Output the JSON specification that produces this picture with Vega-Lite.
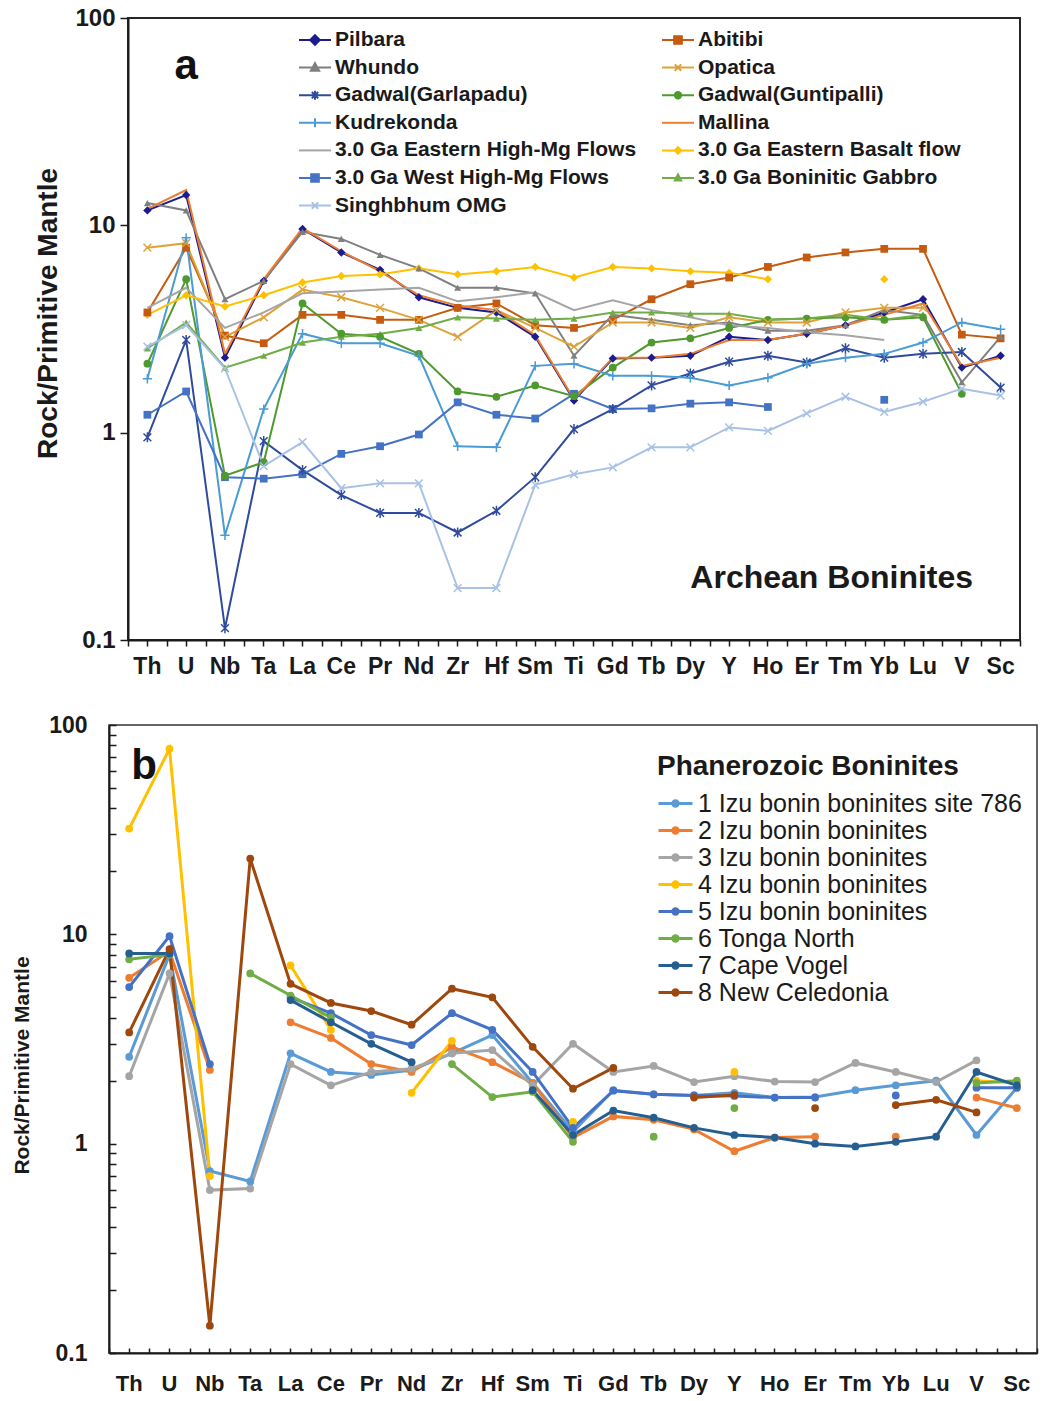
{
  "$schema": "https://vega.github.io/schema/vega-lite/v6.json",
  "padding": {"left": 2, "top": 5, "right": 0, "bottom": 0},
  "background": "white",
  "datasets": {
    "a": [
      {"s":"Pilbara","e":"Th","v":11.8},{"s":"Pilbara","e":"U","v":14},{"s":"Pilbara","e":"Nb","v":2.3},{"s":"Pilbara","e":"Ta","v":5.4},{"s":"Pilbara","e":"La","v":9.6},{"s":"Pilbara","e":"Ce","v":7.4},{"s":"Pilbara","e":"Pr","v":6.1},{"s":"Pilbara","e":"Nd","v":4.5},{"s":"Pilbara","e":"Zr","v":4.0},{"s":"Pilbara","e":"Hf","v":3.8},{"s":"Pilbara","e":"Sm","v":2.9},{"s":"Pilbara","e":"Ti","v":1.43},{"s":"Pilbara","e":"Gd","v":2.28},{"s":"Pilbara","e":"Tb","v":2.3},{"s":"Pilbara","e":"Dy","v":2.35},{"s":"Pilbara","e":"Y","v":2.9},{"s":"Pilbara","e":"Ho","v":2.8},{"s":"Pilbara","e":"Er","v":3.0},{"s":"Pilbara","e":"Tm","v":3.3},{"s":"Pilbara","e":"Yb","v":3.8},{"s":"Pilbara","e":"Lu","v":4.4},{"s":"Pilbara","e":"V","v":2.06},{"s":"Pilbara","e":"Sc","v":2.35},
      {"s":"Abitibi","e":"Th","v":3.8},{"s":"Abitibi","e":"U","v":7.8},{"s":"Abitibi","e":"Nb","v":2.94},{"s":"Abitibi","e":"Ta","v":2.7},{"s":"Abitibi","e":"La","v":3.7},{"s":"Abitibi","e":"Ce","v":3.7},{"s":"Abitibi","e":"Pr","v":3.5},{"s":"Abitibi","e":"Nd","v":3.5},{"s":"Abitibi","e":"Zr","v":4.0},{"s":"Abitibi","e":"Hf","v":4.2},{"s":"Abitibi","e":"Sm","v":3.3},{"s":"Abitibi","e":"Ti","v":3.2},{"s":"Abitibi","e":"Gd","v":3.5},{"s":"Abitibi","e":"Tb","v":4.4},{"s":"Abitibi","e":"Dy","v":5.2},{"s":"Abitibi","e":"Y","v":5.6},{"s":"Abitibi","e":"Ho","v":6.3},{"s":"Abitibi","e":"Er","v":7.0},{"s":"Abitibi","e":"Tm","v":7.4},{"s":"Abitibi","e":"Yb","v":7.7},{"s":"Abitibi","e":"Lu","v":7.7},{"s":"Abitibi","e":"V","v":2.97},{"s":"Abitibi","e":"Sc","v":2.85},
      {"s":"Whundo","e":"Th","v":12.8},{"s":"Whundo","e":"U","v":11.8},{"s":"Whundo","e":"Nb","v":4.4},{"s":"Whundo","e":"Ta","v":5.4},{"s":"Whundo","e":"La","v":9.3},{"s":"Whundo","e":"Ce","v":8.6},{"s":"Whundo","e":"Pr","v":7.2},{"s":"Whundo","e":"Nd","v":6.2},{"s":"Whundo","e":"Zr","v":5.0},{"s":"Whundo","e":"Hf","v":5.0},{"s":"Whundo","e":"Sm","v":4.7},{"s":"Whundo","e":"Ti","v":2.35},{"s":"Whundo","e":"Gd","v":3.7},{"s":"Whundo","e":"Tb","v":3.5},{"s":"Whundo","e":"Dy","v":3.3},{"s":"Whundo","e":"Y","v":3.4},{"s":"Whundo","e":"Ho","v":3.1},{"s":"Whundo","e":"Er","v":3.1},{"s":"Whundo","e":"Tm","v":3.3},{"s":"Whundo","e":"Yb","v":3.9},{"s":"Whundo","e":"Lu","v":3.7},{"s":"Whundo","e":"V","v":1.75},{"s":"Whundo","e":"Sc","v":2.9},
      {"s":"Opatica","e":"Th","v":7.8},{"s":"Opatica","e":"U","v":8.2},{"s":"Opatica","e":"Nb","v":2.9},{"s":"Opatica","e":"Ta","v":3.6},{"s":"Opatica","e":"La","v":4.9},{"s":"Opatica","e":"Ce","v":4.5},{"s":"Opatica","e":"Pr","v":4.0},{"s":"Opatica","e":"Nd","v":3.5},{"s":"Opatica","e":"Zr","v":2.9},{"s":"Opatica","e":"Hf","v":3.9},{"s":"Opatica","e":"Sm","v":3.2},{"s":"Opatica","e":"Ti","v":2.6},{"s":"Opatica","e":"Gd","v":3.4},{"s":"Opatica","e":"Tb","v":3.4},{"s":"Opatica","e":"Dy","v":3.2},{"s":"Opatica","e":"Y","v":3.6},{"s":"Opatica","e":"Ho","v":3.4},{"s":"Opatica","e":"Er","v":3.4},{"s":"Opatica","e":"Tm","v":3.8},{"s":"Opatica","e":"Yb","v":4.0},{"s":"Opatica","e":"Lu","v":4.0},
      {"s":"Gadwal(Garlapadu)","e":"Th","v":0.95},{"s":"Gadwal(Garlapadu)","e":"U","v":2.8},{"s":"Gadwal(Garlapadu)","e":"Nb","v":0.114},{"s":"Gadwal(Garlapadu)","e":"Ta","v":0.91},{"s":"Gadwal(Garlapadu)","e":"La","v":0.66},{"s":"Gadwal(Garlapadu)","e":"Ce","v":0.5},{"s":"Gadwal(Garlapadu)","e":"Pr","v":0.41},{"s":"Gadwal(Garlapadu)","e":"Nd","v":0.41},{"s":"Gadwal(Garlapadu)","e":"Zr","v":0.33},{"s":"Gadwal(Garlapadu)","e":"Hf","v":0.42},{"s":"Gadwal(Garlapadu)","e":"Sm","v":0.61},{"s":"Gadwal(Garlapadu)","e":"Ti","v":1.04},{"s":"Gadwal(Garlapadu)","e":"Gd","v":1.3},{"s":"Gadwal(Garlapadu)","e":"Tb","v":1.69},{"s":"Gadwal(Garlapadu)","e":"Dy","v":1.93},{"s":"Gadwal(Garlapadu)","e":"Y","v":2.2},{"s":"Gadwal(Garlapadu)","e":"Ho","v":2.35},{"s":"Gadwal(Garlapadu)","e":"Er","v":2.18},{"s":"Gadwal(Garlapadu)","e":"Tm","v":2.55},{"s":"Gadwal(Garlapadu)","e":"Yb","v":2.3},{"s":"Gadwal(Garlapadu)","e":"Lu","v":2.4},{"s":"Gadwal(Garlapadu)","e":"V","v":2.45},{"s":"Gadwal(Garlapadu)","e":"Sc","v":1.65},
      {"s":"Gadwal(Guntipalli)","e":"Th","v":2.15},{"s":"Gadwal(Guntipalli)","e":"U","v":5.5},{"s":"Gadwal(Guntipalli)","e":"Nb","v":0.62},{"s":"Gadwal(Guntipalli)","e":"Ta","v":0.72},{"s":"Gadwal(Guntipalli)","e":"La","v":4.2},{"s":"Gadwal(Guntipalli)","e":"Ce","v":3.0},{"s":"Gadwal(Guntipalli)","e":"Pr","v":2.9},{"s":"Gadwal(Guntipalli)","e":"Nd","v":2.4},{"s":"Gadwal(Guntipalli)","e":"Zr","v":1.58},{"s":"Gadwal(Guntipalli)","e":"Hf","v":1.49},{"s":"Gadwal(Guntipalli)","e":"Sm","v":1.69},{"s":"Gadwal(Guntipalli)","e":"Ti","v":1.5},{"s":"Gadwal(Guntipalli)","e":"Gd","v":2.06},{"s":"Gadwal(Guntipalli)","e":"Tb","v":2.72},{"s":"Gadwal(Guntipalli)","e":"Dy","v":2.85},{"s":"Gadwal(Guntipalli)","e":"Y","v":3.2},{"s":"Gadwal(Guntipalli)","e":"Ho","v":3.5},{"s":"Gadwal(Guntipalli)","e":"Er","v":3.55},{"s":"Gadwal(Guntipalli)","e":"Tm","v":3.6},{"s":"Gadwal(Guntipalli)","e":"Yb","v":3.5},{"s":"Gadwal(Guntipalli)","e":"Lu","v":3.6},{"s":"Gadwal(Guntipalli)","e":"V","v":1.54},
      {"s":"Kudrekonda","e":"Th","v":1.82},{"s":"Kudrekonda","e":"U","v":8.7},{"s":"Kudrekonda","e":"Nb","v":0.32},{"s":"Kudrekonda","e":"Ta","v":1.3},{"s":"Kudrekonda","e":"La","v":3.0},{"s":"Kudrekonda","e":"Ce","v":2.7},{"s":"Kudrekonda","e":"Pr","v":2.7},{"s":"Kudrekonda","e":"Nd","v":2.35},{"s":"Kudrekonda","e":"Zr","v":0.86},{"s":"Kudrekonda","e":"Hf","v":0.85},{"s":"Kudrekonda","e":"Sm","v":2.1},{"s":"Kudrekonda","e":"Ti","v":2.15},{"s":"Kudrekonda","e":"Gd","v":1.88},{"s":"Kudrekonda","e":"Tb","v":1.88},{"s":"Kudrekonda","e":"Dy","v":1.84},{"s":"Kudrekonda","e":"Y","v":1.69},{"s":"Kudrekonda","e":"Ho","v":1.84},{"s":"Kudrekonda","e":"Er","v":2.15},{"s":"Kudrekonda","e":"Tm","v":2.3},{"s":"Kudrekonda","e":"Yb","v":2.4},{"s":"Kudrekonda","e":"Lu","v":2.72},{"s":"Kudrekonda","e":"V","v":3.4},{"s":"Kudrekonda","e":"Sc","v":3.15},
      {"s":"Mallina","e":"Th","v":12.0},{"s":"Mallina","e":"U","v":14.8},{"s":"Mallina","e":"Nb","v":2.4},{"s":"Mallina","e":"Ta","v":5.5},{"s":"Mallina","e":"La","v":9.7},{"s":"Mallina","e":"Ce","v":7.5},{"s":"Mallina","e":"Pr","v":6.0},{"s":"Mallina","e":"Nd","v":4.6},{"s":"Mallina","e":"Zr","v":4.1},{"s":"Mallina","e":"Hf","v":3.9},{"s":"Mallina","e":"Sm","v":2.95},{"s":"Mallina","e":"Ti","v":1.45},{"s":"Mallina","e":"Gd","v":2.3},{"s":"Mallina","e":"Tb","v":2.3},{"s":"Mallina","e":"Dy","v":2.4},{"s":"Mallina","e":"Y","v":2.8},{"s":"Mallina","e":"Ho","v":2.8},{"s":"Mallina","e":"Er","v":3.0},{"s":"Mallina","e":"Tm","v":3.3},{"s":"Mallina","e":"Yb","v":3.7},{"s":"Mallina","e":"Lu","v":4.2},{"s":"Mallina","e":"V","v":2.1},{"s":"Mallina","e":"Sc","v":2.3},
      {"s":"3.0 Ga Eastern High-Mg Flows","e":"Th","v":4.0},{"s":"3.0 Ga Eastern High-Mg Flows","e":"U","v":5.0},{"s":"3.0 Ga Eastern High-Mg Flows","e":"Nb","v":3.2},{"s":"3.0 Ga Eastern High-Mg Flows","e":"Ta","v":3.8},{"s":"3.0 Ga Eastern High-Mg Flows","e":"La","v":4.7},{"s":"3.0 Ga Eastern High-Mg Flows","e":"Ce","v":4.8},{"s":"3.0 Ga Eastern High-Mg Flows","e":"Pr","v":4.9},{"s":"3.0 Ga Eastern High-Mg Flows","e":"Nd","v":5.0},{"s":"3.0 Ga Eastern High-Mg Flows","e":"Zr","v":4.3},{"s":"3.0 Ga Eastern High-Mg Flows","e":"Hf","v":4.5},{"s":"3.0 Ga Eastern High-Mg Flows","e":"Sm","v":4.75},{"s":"3.0 Ga Eastern High-Mg Flows","e":"Ti","v":3.9},{"s":"3.0 Ga Eastern High-Mg Flows","e":"Gd","v":4.35},{"s":"3.0 Ga Eastern High-Mg Flows","e":"Tb","v":3.9},{"s":"3.0 Ga Eastern High-Mg Flows","e":"Dy","v":3.6},{"s":"3.0 Ga Eastern High-Mg Flows","e":"Y","v":3.3},{"s":"3.0 Ga Eastern High-Mg Flows","e":"Ho","v":3.2},{"s":"3.0 Ga Eastern High-Mg Flows","e":"Er","v":3.05},{"s":"3.0 Ga Eastern High-Mg Flows","e":"Tm","v":2.95},{"s":"3.0 Ga Eastern High-Mg Flows","e":"Yb","v":2.8},
      {"s":"3.0 Ga Eastern Basalt flow","e":"Th","v":3.7},{"s":"3.0 Ga Eastern Basalt flow","e":"U","v":4.6},{"s":"3.0 Ga Eastern Basalt flow","e":"Nb","v":4.06},{"s":"3.0 Ga Eastern Basalt flow","e":"Ta","v":4.6},{"s":"3.0 Ga Eastern Basalt flow","e":"La","v":5.3},{"s":"3.0 Ga Eastern Basalt flow","e":"Ce","v":5.7},{"s":"3.0 Ga Eastern Basalt flow","e":"Pr","v":5.8},{"s":"3.0 Ga Eastern Basalt flow","e":"Nd","v":6.2},{"s":"3.0 Ga Eastern Basalt flow","e":"Zr","v":5.8},{"s":"3.0 Ga Eastern Basalt flow","e":"Hf","v":6.0},{"s":"3.0 Ga Eastern Basalt flow","e":"Sm","v":6.3},{"s":"3.0 Ga Eastern Basalt flow","e":"Ti","v":5.6},{"s":"3.0 Ga Eastern Basalt flow","e":"Gd","v":6.3},{"s":"3.0 Ga Eastern Basalt flow","e":"Tb","v":6.2},{"s":"3.0 Ga Eastern Basalt flow","e":"Dy","v":6.0},{"s":"3.0 Ga Eastern Basalt flow","e":"Y","v":5.9},{"s":"3.0 Ga Eastern Basalt flow","e":"Ho","v":5.5},{"s":"3.0 Ga Eastern Basalt flow","e":"Er","v":null},{"s":"3.0 Ga Eastern Basalt flow","e":"Yb","v":5.5},
      {"s":"3.0 Ga West High-Mg Flows","e":"Th","v":1.22},{"s":"3.0 Ga West High-Mg Flows","e":"U","v":1.58},{"s":"3.0 Ga West High-Mg Flows","e":"Nb","v":0.61},{"s":"3.0 Ga West High-Mg Flows","e":"Ta","v":0.6},{"s":"3.0 Ga West High-Mg Flows","e":"La","v":0.63},{"s":"3.0 Ga West High-Mg Flows","e":"Ce","v":0.79},{"s":"3.0 Ga West High-Mg Flows","e":"Pr","v":0.86},{"s":"3.0 Ga West High-Mg Flows","e":"Nd","v":0.98},{"s":"3.0 Ga West High-Mg Flows","e":"Zr","v":1.4},{"s":"3.0 Ga West High-Mg Flows","e":"Hf","v":1.22},{"s":"3.0 Ga West High-Mg Flows","e":"Sm","v":1.17},{"s":"3.0 Ga West High-Mg Flows","e":"Ti","v":1.54},{"s":"3.0 Ga West High-Mg Flows","e":"Gd","v":1.3},{"s":"3.0 Ga West High-Mg Flows","e":"Tb","v":1.31},{"s":"3.0 Ga West High-Mg Flows","e":"Dy","v":1.38},{"s":"3.0 Ga West High-Mg Flows","e":"Y","v":1.4},{"s":"3.0 Ga West High-Mg Flows","e":"Ho","v":1.33},{"s":"3.0 Ga West High-Mg Flows","e":"Er","v":null},{"s":"3.0 Ga West High-Mg Flows","e":"Yb","v":1.44},
      {"s":"3.0 Ga Boninitic Gabbro","e":"Th","v":2.55},{"s":"3.0 Ga Boninitic Gabbro","e":"U","v":3.4},{"s":"3.0 Ga Boninitic Gabbro","e":"Nb","v":2.06},{"s":"3.0 Ga Boninitic Gabbro","e":"Ta","v":2.35},{"s":"3.0 Ga Boninitic Gabbro","e":"La","v":2.72},{"s":"3.0 Ga Boninitic Gabbro","e":"Ce","v":2.9},{"s":"3.0 Ga Boninitic Gabbro","e":"Pr","v":3.0},{"s":"3.0 Ga Boninitic Gabbro","e":"Nd","v":3.2},{"s":"3.0 Ga Boninitic Gabbro","e":"Zr","v":3.6},{"s":"3.0 Ga Boninitic Gabbro","e":"Hf","v":3.55},{"s":"3.0 Ga Boninitic Gabbro","e":"Sm","v":3.5},{"s":"3.0 Ga Boninitic Gabbro","e":"Ti","v":3.55},{"s":"3.0 Ga Boninitic Gabbro","e":"Gd","v":3.8},{"s":"3.0 Ga Boninitic Gabbro","e":"Tb","v":3.8},{"s":"3.0 Ga Boninitic Gabbro","e":"Dy","v":3.75},{"s":"3.0 Ga Boninitic Gabbro","e":"Y","v":3.75},{"s":"3.0 Ga Boninitic Gabbro","e":"Ho","v":3.5},{"s":"3.0 Ga Boninitic Gabbro","e":"Er","v":3.55},{"s":"3.0 Ga Boninitic Gabbro","e":"Tm","v":3.7},{"s":"3.0 Ga Boninitic Gabbro","e":"Yb","v":3.5},{"s":"3.0 Ga Boninitic Gabbro","e":"Lu","v":3.7},
      {"s":"Singhbhum OMG","e":"Th","v":2.6},{"s":"Singhbhum OMG","e":"U","v":3.3},{"s":"Singhbhum OMG","e":"Nb","v":2.04},{"s":"Singhbhum OMG","e":"Ta","v":0.69},{"s":"Singhbhum OMG","e":"La","v":0.9},{"s":"Singhbhum OMG","e":"Ce","v":0.54},{"s":"Singhbhum OMG","e":"Pr","v":0.57},{"s":"Singhbhum OMG","e":"Nd","v":0.57},{"s":"Singhbhum OMG","e":"Zr","v":0.178},{"s":"Singhbhum OMG","e":"Hf","v":0.178},{"s":"Singhbhum OMG","e":"Sm","v":0.56},{"s":"Singhbhum OMG","e":"Ti","v":0.63},{"s":"Singhbhum OMG","e":"Gd","v":0.68},{"s":"Singhbhum OMG","e":"Tb","v":0.85},{"s":"Singhbhum OMG","e":"Dy","v":0.85},{"s":"Singhbhum OMG","e":"Y","v":1.06},{"s":"Singhbhum OMG","e":"Ho","v":1.02},{"s":"Singhbhum OMG","e":"Er","v":1.24},{"s":"Singhbhum OMG","e":"Tm","v":1.49},{"s":"Singhbhum OMG","e":"Yb","v":1.26},{"s":"Singhbhum OMG","e":"Lu","v":1.41},{"s":"Singhbhum OMG","e":"V","v":1.63},{"s":"Singhbhum OMG","e":"Sc","v":1.51}
    ],
    "b": [
      {"s":"1 Izu bonin boninites site 786","e":"Th","v":2.6},{"s":"1 Izu bonin boninites site 786","e":"U","v":8.0},{"s":"1 Izu bonin boninites site 786","e":"Nb","v":0.74},{"s":"1 Izu bonin boninites site 786","e":"Ta","v":0.66},{"s":"1 Izu bonin boninites site 786","e":"La","v":2.7},{"s":"1 Izu bonin boninites site 786","e":"Ce","v":2.2},{"s":"1 Izu bonin boninites site 786","e":"Pr","v":2.13},{"s":"1 Izu bonin boninites site 786","e":"Nd","v":2.25},{"s":"1 Izu bonin boninites site 786","e":"Zr","v":2.7},{"s":"1 Izu bonin boninites site 786","e":"Hf","v":3.3},{"s":"1 Izu bonin boninites site 786","e":"Sm","v":1.95},{"s":"1 Izu bonin boninites site 786","e":"Ti","v":1.14},{"s":"1 Izu bonin boninites site 786","e":"Gd","v":1.8},{"s":"1 Izu bonin boninites site 786","e":"Tb","v":1.72},{"s":"1 Izu bonin boninites site 786","e":"Dy","v":1.7},{"s":"1 Izu bonin boninites site 786","e":"Y","v":1.75},{"s":"1 Izu bonin boninites site 786","e":"Ho","v":1.66},{"s":"1 Izu bonin boninites site 786","e":"Er","v":1.67},{"s":"1 Izu bonin boninites site 786","e":"Tm","v":1.8},{"s":"1 Izu bonin boninites site 786","e":"Yb","v":1.9},{"s":"1 Izu bonin boninites site 786","e":"Lu","v":2.0},{"s":"1 Izu bonin boninites site 786","e":"V","v":1.1},{"s":"1 Izu bonin boninites site 786","e":"Sc","v":1.85},
      {"s":"2 Izu bonin boninites","e":"Th","v":6.2},{"s":"2 Izu bonin boninites","e":"U","v":8.3},{"s":"2 Izu bonin boninites","e":"Nb","v":2.25},{"s":"2 Izu bonin boninites","e":"Ta","v":null},{"s":"2 Izu bonin boninites","e":"La","v":3.8},{"s":"2 Izu bonin boninites","e":"Ce","v":3.2},{"s":"2 Izu bonin boninites","e":"Pr","v":2.4},{"s":"2 Izu bonin boninites","e":"Nd","v":2.2},{"s":"2 Izu bonin boninites","e":"Zr","v":2.9},{"s":"2 Izu bonin boninites","e":"Hf","v":2.45},{"s":"2 Izu bonin boninites","e":"Sm","v":1.95},{"s":"2 Izu bonin boninites","e":"Ti","v":1.07},{"s":"2 Izu bonin boninites","e":"Gd","v":1.35},{"s":"2 Izu bonin boninites","e":"Tb","v":1.3},{"s":"2 Izu bonin boninites","e":"Dy","v":1.17},{"s":"2 Izu bonin boninites","e":"Y","v":0.92},{"s":"2 Izu bonin boninites","e":"Ho","v":1.07},{"s":"2 Izu bonin boninites","e":"Er","v":1.08},{"s":"2 Izu bonin boninites","e":"Tm","v":null},{"s":"2 Izu bonin boninites","e":"Yb","v":1.08},{"s":"2 Izu bonin boninites","e":"Lu","v":null},{"s":"2 Izu bonin boninites","e":"V","v":1.66},{"s":"2 Izu bonin boninites","e":"Sc","v":1.48},
      {"s":"3 Izu bonin boninites","e":"Th","v":2.1},{"s":"3 Izu bonin boninites","e":"U","v":6.5},{"s":"3 Izu bonin boninites","e":"Nb","v":0.6},{"s":"3 Izu bonin boninites","e":"Ta","v":0.61},{"s":"3 Izu bonin boninites","e":"La","v":2.4},{"s":"3 Izu bonin boninites","e":"Ce","v":1.9},{"s":"3 Izu bonin boninites","e":"Pr","v":2.2},{"s":"3 Izu bonin boninites","e":"Nd","v":2.28},{"s":"3 Izu bonin boninites","e":"Zr","v":2.7},{"s":"3 Izu bonin boninites","e":"Hf","v":2.8},{"s":"3 Izu bonin boninites","e":"Sm","v":1.9},{"s":"3 Izu bonin boninites","e":"Ti","v":3.0},{"s":"3 Izu bonin boninites","e":"Gd","v":2.2},{"s":"3 Izu bonin boninites","e":"Tb","v":2.35},{"s":"3 Izu bonin boninites","e":"Dy","v":1.97},{"s":"3 Izu bonin boninites","e":"Y","v":2.1},{"s":"3 Izu bonin boninites","e":"Ho","v":1.98},{"s":"3 Izu bonin boninites","e":"Er","v":1.97},{"s":"3 Izu bonin boninites","e":"Tm","v":2.43},{"s":"3 Izu bonin boninites","e":"Yb","v":2.2},{"s":"3 Izu bonin boninites","e":"Lu","v":1.97},{"s":"3 Izu bonin boninites","e":"V","v":2.5},
      {"s":"4 Izu bonin boninites","e":"Th","v":32},{"s":"4 Izu bonin boninites","e":"U","v":77},{"s":"4 Izu bonin boninites","e":"Nb","v":0.7},{"s":"4 Izu bonin boninites","e":"Ta","v":null},{"s":"4 Izu bonin boninites","e":"La","v":7.1},{"s":"4 Izu bonin boninites","e":"Ce","v":3.5},{"s":"4 Izu bonin boninites","e":"Pr","v":null},{"s":"4 Izu bonin boninites","e":"Nd","v":1.75},{"s":"4 Izu bonin boninites","e":"Zr","v":3.1},{"s":"4 Izu bonin boninites","e":"Hf","v":null},{"s":"4 Izu bonin boninites","e":"Ti","v":1.27},{"s":"4 Izu bonin boninites","e":"Gd","v":null},{"s":"4 Izu bonin boninites","e":"Y","v":2.2},{"s":"4 Izu bonin boninites","e":"Ho","v":null},{"s":"4 Izu bonin boninites","e":"V","v":2.0},{"s":"4 Izu bonin boninites","e":"Sc","v":1.95},
      {"s":"5 Izu bonin boninites","e":"Th","v":5.6},{"s":"5 Izu bonin boninites","e":"U","v":9.8},{"s":"5 Izu bonin boninites","e":"Nb","v":2.4},{"s":"5 Izu bonin boninites","e":"Ta","v":null},{"s":"5 Izu bonin boninites","e":"La","v":5.0},{"s":"5 Izu bonin boninites","e":"Ce","v":4.2},{"s":"5 Izu bonin boninites","e":"Pr","v":3.3},{"s":"5 Izu bonin boninites","e":"Nd","v":2.96},{"s":"5 Izu bonin boninites","e":"Zr","v":4.2},{"s":"5 Izu bonin boninites","e":"Hf","v":3.5},{"s":"5 Izu bonin boninites","e":"Sm","v":2.2},{"s":"5 Izu bonin boninites","e":"Ti","v":1.19},{"s":"5 Izu bonin boninites","e":"Gd","v":1.79},{"s":"5 Izu bonin boninites","e":"Tb","v":1.72},{"s":"5 Izu bonin boninites","e":"Dy","v":1.7},{"s":"5 Izu bonin boninites","e":"Y","v":1.69},{"s":"5 Izu bonin boninites","e":"Ho","v":1.66},{"s":"5 Izu bonin boninites","e":"Er","v":1.66},{"s":"5 Izu bonin boninites","e":"Tm","v":null},{"s":"5 Izu bonin boninites","e":"Yb","v":1.7},{"s":"5 Izu bonin boninites","e":"Lu","v":null},{"s":"5 Izu bonin boninites","e":"V","v":1.85},{"s":"5 Izu bonin boninites","e":"Sc","v":1.85},
      {"s":"6 Tonga North","e":"Th","v":7.6},{"s":"6 Tonga North","e":"U","v":8.0},{"s":"6 Tonga North","e":"Nb","v":null},{"s":"6 Tonga North","e":"Ta","v":6.5},{"s":"6 Tonga North","e":"La","v":5.1},{"s":"6 Tonga North","e":"Ce","v":4.0},{"s":"6 Tonga North","e":"Pr","v":null},{"s":"6 Tonga North","e":"Zr","v":2.4},{"s":"6 Tonga North","e":"Hf","v":1.67},{"s":"6 Tonga North","e":"Sm","v":1.77},{"s":"6 Tonga North","e":"Ti","v":1.02},{"s":"6 Tonga North","e":"Gd","v":null},{"s":"6 Tonga North","e":"Tb","v":1.08},{"s":"6 Tonga North","e":"Dy","v":null},{"s":"6 Tonga North","e":"Y","v":1.48},{"s":"6 Tonga North","e":"Ho","v":null},{"s":"6 Tonga North","e":"V","v":1.95},{"s":"6 Tonga North","e":"Sc","v":2.0},
      {"s":"7 Cape Vogel","e":"Th","v":8.1},{"s":"7 Cape Vogel","e":"U","v":8.1},{"s":"7 Cape Vogel","e":"Nb","v":null},{"s":"7 Cape Vogel","e":"La","v":4.85},{"s":"7 Cape Vogel","e":"Ce","v":3.8},{"s":"7 Cape Vogel","e":"Pr","v":3.0},{"s":"7 Cape Vogel","e":"Nd","v":2.45},{"s":"7 Cape Vogel","e":"Zr","v":null},{"s":"7 Cape Vogel","e":"Sm","v":1.8},{"s":"7 Cape Vogel","e":"Ti","v":1.1},{"s":"7 Cape Vogel","e":"Gd","v":1.44},{"s":"7 Cape Vogel","e":"Tb","v":1.33},{"s":"7 Cape Vogel","e":"Dy","v":1.19},{"s":"7 Cape Vogel","e":"Y","v":1.1},{"s":"7 Cape Vogel","e":"Ho","v":1.07},{"s":"7 Cape Vogel","e":"Er","v":1.0},{"s":"7 Cape Vogel","e":"Tm","v":0.97},{"s":"7 Cape Vogel","e":"Yb","v":1.02},{"s":"7 Cape Vogel","e":"Lu","v":1.08},{"s":"7 Cape Vogel","e":"V","v":2.2},{"s":"7 Cape Vogel","e":"Sc","v":1.9},
      {"s":"8 New Celedonia","e":"Th","v":3.4},{"s":"8 New Celedonia","e":"U","v":8.5},{"s":"8 New Celedonia","e":"Nb","v":0.135},{"s":"8 New Celedonia","e":"Ta","v":23},{"s":"8 New Celedonia","e":"La","v":5.8},{"s":"8 New Celedonia","e":"Ce","v":4.7},{"s":"8 New Celedonia","e":"Pr","v":4.3},{"s":"8 New Celedonia","e":"Nd","v":3.7},{"s":"8 New Celedonia","e":"Zr","v":5.5},{"s":"8 New Celedonia","e":"Hf","v":5.0},{"s":"8 New Celedonia","e":"Sm","v":2.9},{"s":"8 New Celedonia","e":"Ti","v":1.83},{"s":"8 New Celedonia","e":"Gd","v":2.3},{"s":"8 New Celedonia","e":"Tb","v":null},{"s":"8 New Celedonia","e":"Dy","v":1.66},{"s":"8 New Celedonia","e":"Y","v":1.71},{"s":"8 New Celedonia","e":"Ho","v":null},{"s":"8 New Celedonia","e":"Er","v":1.48},{"s":"8 New Celedonia","e":"Tm","v":null},{"s":"8 New Celedonia","e":"Yb","v":1.53},{"s":"8 New Celedonia","e":"Lu","v":1.62},{"s":"8 New Celedonia","e":"V","v":1.41}
    ]
  },
  "vconcat": [
    {
      "hconcat": [
        {
          "width": 31, "height": 10,
          "data": {"values": [{}]},
          "mark": {"type": "point", "opacity": 0}
        },
        {
          "width": 892, "height": 622,
          "view": {"stroke": "#262626", "strokeWidth": 2},
          "data": {"name": "a"},
          "encoding": {
            "x": {"field": "e", "type": "nominal", "sort": ["Th","U","Nb","Ta","La","Ce","Pr","Nd","Zr","Hf","Sm","Ti","Gd","Tb","Dy","Y","Ho","Er","Tm","Yb","Lu","V","Sc"], "scale": {"type": "band", "paddingInner": 0, "paddingOuter": 0}, "axis": null},
            "y": {"field": "v", "type": "quantitative", "scale": {"type": "log", "domain": [0.1, 100], "nice": false},
                  "axis": {"values": [0.1, 1, 10, 100], "format": "~g", "title": "Rock/Primitive Mantle", "titleFontSize": 28, "titlePadding": 12, "titleY": 295, "labelFontSize": 24, "tickSize": 8, "labelPadding": 5, "labelOverlap": false}},
            "color": {"field": "s", "type": "nominal", "legend": null,
                      "scale": {"domain": ["Singhbhum OMG","3.0 Ga Boninitic Gabbro","3.0 Ga West High-Mg Flows","3.0 Ga Eastern Basalt flow","3.0 Ga Eastern High-Mg Flows","Mallina","Kudrekonda","Gadwal(Guntipalli)","Gadwal(Garlapadu)","Opatica","Whundo","Abitibi","Pilbara"],
                                "range": ["#A8C1E6","#70AD47","#4472C4","#FFC000","#A5A5A5","#ED7D31","#4A9BD6","#4E9A2E","#2F4B9B","#DDA33A","#7F7F7F","#C55A11","#1C1C8C"]}}
          },
          "layer": [
            {
              "mark": {"type": "line", "strokeWidth": 2},
              "encoding": {
                "x": {"field": "e", "type": "nominal", "sort": ["Th","U","Nb","Ta","La","Ce","Pr","Nd","Zr","Hf","Sm","Ti","Gd","Tb","Dy","Y","Ho","Er","Tm","Yb","Lu","V","Sc"],
                      "axis": {"orient": "bottom", "title": null, "labelFontSize": 23, "labelAngle": 0, "tickSize": 6, "labelPadding": 9}}
              }
            },
            {
              "transform": [{"filter": {"field": "s", "oneOf": ["Pilbara", "3.0 Ga Eastern Basalt flow"]}}],
              "mark": {"type": "point", "shape": "diamond", "filled": true, "size": 70, "opacity": 1}
            },
            {
              "transform": [{"filter": {"field": "s", "oneOf": ["Abitibi", "3.0 Ga West High-Mg Flows"]}}],
              "mark": {"type": "point", "shape": "square", "filled": true, "size": 60, "opacity": 1}
            },
            {
              "transform": [{"filter": {"field": "s", "oneOf": ["Whundo", "3.0 Ga Boninitic Gabbro"]}}],
              "mark": {"type": "point", "shape": "triangle-up", "filled": true, "size": 50, "opacity": 1}
            },
            {
              "transform": [{"filter": {"field": "s", "oneOf": ["Gadwal(Guntipalli)"]}}],
              "mark": {"type": "point", "shape": "circle", "filled": true, "size": 60, "opacity": 1}
            },
            {
              "transform": [{"filter": {"field": "s", "oneOf": ["Opatica", "Singhbhum OMG"]}}],
              "mark": {"type": "point", "shape": "M-1,-1L1,1M-1,1L1,-1", "filled": false, "size": 60, "strokeWidth": 1.5, "opacity": 1}
            },
            {
              "transform": [{"filter": {"field": "s", "oneOf": ["Gadwal(Garlapadu)"]}}],
              "mark": {"type": "point", "shape": "M-1,-1L1,1M-1,1L1,-1M0,-1.3V1.3", "filled": false, "size": 60, "strokeWidth": 1.5, "opacity": 1}
            },
            {
              "transform": [{"filter": {"field": "s", "oneOf": ["Kudrekonda"]}}],
              "mark": {"type": "point", "shape": "M-1.2,0H1.2M0,-1.2V1.2", "filled": false, "size": 60, "strokeWidth": 1.5, "opacity": 1}
            },
            {
              "mark": {"type": "point", "opacity": 0, "filled": true},
              "encoding": {
                "x": {"field": "e", "type": "nominal", "sort": ["Th","U","Nb","Ta","La","Ce","Pr","Nd","Zr","Hf","Sm","Ti","Gd","Tb","Dy","Y","Ho","Er","Tm","Yb","Lu","V","Sc"],
                      "axis": {"orient": "bottom", "title": null, "labels": false, "domain": false, "tickBand": "extent", "tickSize": 6}},
                "fill": {"field": "s", "type": "nominal",
                         "scale": {"domain": ["Pilbara","Whundo","Gadwal(Garlapadu)","Kudrekonda","3.0 Ga Eastern High-Mg Flows","3.0 Ga West High-Mg Flows","Singhbhum OMG","Abitibi","Opatica","Gadwal(Guntipalli)","Mallina","3.0 Ga Eastern Basalt flow","3.0 Ga Boninitic Gabbro"],
                                   "range": ["#1C1C8C","#7F7F7F","#2F4B9B","#4A9BD6","#A5A5A5","#4472C4","#A8C1E6","#C55A11","#DDA33A","#4E9A2E","#ED7D31","#FFC000","#70AD47"]},
                         "legend": {"orient": "none", "legendX": 170, "legendY": 5, "columns": 2, "columnPadding": 21, "rowPadding": 0.6, "symbolSize": 1024, "symbolStrokeWidth": 2, "labelFontSize": 21, "labelFontWeight": "bold", "labelOffset": 3, "title": null, "labelLimit": 400, "padding": 0,
                                    "encode": {"symbols": {"update": {"fill": {"signal": "['#1C1C8C','#7F7F7F','#2F4B9B','#4A9BD6','#A5A5A5','#4472C4','#A8C1E6','#C55A11','#DDA33A','#4E9A2E','#ED7D31','#FFC000','#70AD47'][indexof(['Pilbara','Whundo','Gadwal(Garlapadu)','Kudrekonda','3.0 Ga Eastern High-Mg Flows','3.0 Ga West High-Mg Flows','Singhbhum OMG','Abitibi','Opatica','Gadwal(Guntipalli)','Mallina','3.0 Ga Eastern Basalt flow','3.0 Ga Boninitic Gabbro'], datum.value)]"}, "fillOpacity": {"value": 1}}}}}},
                "stroke": {"field": "s", "type": "nominal",
                         "scale": {"domain": ["Pilbara","Whundo","Gadwal(Garlapadu)","Kudrekonda","3.0 Ga Eastern High-Mg Flows","3.0 Ga West High-Mg Flows","Singhbhum OMG","Abitibi","Opatica","Gadwal(Guntipalli)","Mallina","3.0 Ga Eastern Basalt flow","3.0 Ga Boninitic Gabbro"],
                                   "range": ["#1C1C8C","#7F7F7F","#2F4B9B","#4A9BD6","#A5A5A5","#4472C4","#A8C1E6","#C55A11","#DDA33A","#4E9A2E","#ED7D31","#FFC000","#70AD47"]},
                         "legend": {"orient": "none", "legendX": 170, "legendY": 5, "columns": 2, "columnPadding": 21, "rowPadding": 0.6, "symbolSize": 1024, "symbolStrokeWidth": 2, "labelFontSize": 21, "labelFontWeight": "bold", "labelOffset": 3, "title": null, "labelLimit": 400, "padding": 0,
                                    "encode": {"symbols": {"update": {"fill": {"signal": "['#1C1C8C','#7F7F7F','#2F4B9B','#4A9BD6','#A5A5A5','#4472C4','#A8C1E6','#C55A11','#DDA33A','#4E9A2E','#ED7D31','#FFC000','#70AD47'][indexof(['Pilbara','Whundo','Gadwal(Garlapadu)','Kudrekonda','3.0 Ga Eastern High-Mg Flows','3.0 Ga West High-Mg Flows','Singhbhum OMG','Abitibi','Opatica','Gadwal(Guntipalli)','Mallina','3.0 Ga Eastern Basalt flow','3.0 Ga Boninitic Gabbro'], datum.value)]"}, "fillOpacity": {"value": 1}}}}}},
                "shape": {"field": "s", "type": "nominal",
                         "scale": {"domain": ["Pilbara","Whundo","Gadwal(Garlapadu)","Kudrekonda","3.0 Ga Eastern High-Mg Flows","3.0 Ga West High-Mg Flows","Singhbhum OMG","Abitibi","Opatica","Gadwal(Guntipalli)","Mallina","3.0 Ga Eastern Basalt flow","3.0 Ga Boninitic Gabbro"],
                                   "range": ["M-1,0H1M0,-0.3L0.3,0L0,0.3L-0.3,0Z","M-1,0H1M0,-0.28L0.26,0.2H-0.26Z","M-1,0H1M-0.2,-0.2L0.2,0.2M-0.2,0.2L0.2,-0.2M0,-0.28V0.28","M-1,0H1M0,-0.28V0.28","M-1,0H1","M-1,0H1M-0.24,-0.24H0.24V0.24H-0.24Z","M-1,0H1M-0.2,-0.2L0.2,0.2M-0.2,0.2L0.2,-0.2","M-1,0H1M-0.24,-0.24H0.24V0.24H-0.24Z","M-1,0H1M-0.2,-0.2L0.2,0.2M-0.2,0.2L0.2,-0.2","M-1,0H1M0.2,0A0.2,0.2 0 1,1 -0.2,0A0.2,0.2 0 1,1 0.2,0Z","M-1,0H1","M-1,0H1M0,-0.2L0.2,0L0,0.2L-0.2,0Z","M-1,0H1M0,-0.22L0.2,0.16H-0.2Z"]},
                         "legend": {"orient": "none", "legendX": 170, "legendY": 5, "columns": 2, "columnPadding": 21, "rowPadding": 0.6, "symbolSize": 1024, "symbolStrokeWidth": 2, "labelFontSize": 21, "labelFontWeight": "bold", "labelOffset": 3, "title": null, "labelLimit": 400, "padding": 0,
                                    "encode": {"symbols": {"update": {"fill": {"signal": "['#1C1C8C','#7F7F7F','#2F4B9B','#4A9BD6','#A5A5A5','#4472C4','#A8C1E6','#C55A11','#DDA33A','#4E9A2E','#ED7D31','#FFC000','#70AD47'][indexof(['Pilbara','Whundo','Gadwal(Garlapadu)','Kudrekonda','3.0 Ga Eastern High-Mg Flows','3.0 Ga West High-Mg Flows','Singhbhum OMG','Abitibi','Opatica','Gadwal(Guntipalli)','Mallina','3.0 Ga Eastern Basalt flow','3.0 Ga Boninitic Gabbro'], datum.value)]"}, "fillOpacity": {"value": 1}}}}}}
              }
            },
            {
              "transform": [{"filter": "datum.s === 'Pilbara' && datum.e === 'Th'"}],
              "mark": {"type": "text", "fontSize": 42, "fontWeight": "bold", "align": "center", "baseline": "alphabetic"},
              "encoding": {"x": {"datum": "U", "axis": null}, "y": {"datum": 51, "type": "quantitative"}, "text": {"value": "a"}, "color": {"value": "#111111"}}
            },
            {
              "transform": [{"filter": "datum.s === 'Pilbara' && datum.e === 'Th'"}],
              "mark": {"type": "text", "fontSize": 32, "fontWeight": "bold", "align": "left", "baseline": "alphabetic"},
              "encoding": {"x": {"datum": "Dy", "axis": null}, "y": {"datum": 0.178, "type": "quantitative"}, "text": {"value": "Archean Boninites"}, "color": {"value": "#1a1a1a"}}
            }
          ],
          "resolve": {"axis": {"x": "independent"}}
        }
      ],
      "spacing": 0,
      "resolve": {"scale": {"color": "independent", "fill": "independent", "stroke": "independent", "shape": "independent"}}
    },
    {
      "hconcat": [
        {
          "width": 8, "height": 10,
          "data": {"values": [{}]},
          "mark": {"type": "point", "opacity": 0}
        },
        {
          "width": 928, "height": 628,
          "view": {"stroke": "#333333", "strokeWidth": 1.5},
          "data": {"name": "b"},
          "encoding": {
            "x": {"field": "e", "type": "nominal", "sort": ["Th","U","Nb","Ta","La","Ce","Pr","Nd","Zr","Hf","Sm","Ti","Gd","Tb","Dy","Y","Ho","Er","Tm","Yb","Lu","V","Sc"], "scale": {"type": "band", "paddingInner": 0, "paddingOuter": 0}, "axis": null},
            "y": {"field": "v", "type": "quantitative", "scale": {"type": "log", "domain": [0.1, 100], "nice": false},
                  "axis": {"values": [0.1,0.2,0.3,0.4,0.5,0.6,0.7,0.8,0.9,1,2,3,4,5,6,7,8,9,10,20,30,40,50,60,70,80,90,100], "format": "~g",
                           "labelExpr": "abs(log(datum.value)/LN10 - round(log(datum.value)/LN10)) < 0.001 ? datum.label : ''",
                           "title": "Rock/Primitive Mantle", "titleFontSize": 21, "titlePadding": 16, "titleY": 340, "labelFontSize": 23, "tickSize": -7, "labelPadding": 29, "labelOverlap": false}},
            "color": {"field": "s", "type": "nominal", "legend": null,
                      "scale": {"domain": ["8 New Celedonia","7 Cape Vogel","6 Tonga North","5 Izu bonin boninites","4 Izu bonin boninites","3 Izu bonin boninites","2 Izu bonin boninites","1 Izu bonin boninites site 786"],
                                "range": ["#9E480E","#255E91","#70AD47","#4472C4","#FFC000","#A5A5A5","#ED7D31","#5B9BD5"]}}
          },
          "layer": [
            {
              "mark": {"type": "line", "strokeWidth": 3},
              "encoding": {
                "x": {"field": "e", "type": "nominal", "sort": ["Th","U","Nb","Ta","La","Ce","Pr","Nd","Zr","Hf","Sm","Ti","Gd","Tb","Dy","Y","Ho","Er","Tm","Yb","Lu","V","Sc"],
                      "axis": {"orient": "bottom", "title": null, "labelFontSize": 22, "labelAngle": 0, "tickSize": -5, "labelPadding": 25}}
              }
            },
            {
              "mark": {"type": "point", "shape": "circle", "filled": true, "size": 60, "opacity": 1}
            },
            {
              "mark": {"type": "point", "opacity": 0, "filled": true},
              "encoding": {
                "x": {"field": "e", "type": "nominal", "sort": ["Th","U","Nb","Ta","La","Ce","Pr","Nd","Zr","Hf","Sm","Ti","Gd","Tb","Dy","Y","Ho","Er","Tm","Yb","Lu","V","Sc"],
                      "axis": {"orient": "bottom", "title": null, "labels": false, "domain": false, "tickBand": "extent", "tickSize": -5}},
                "fill": {"field": "s", "type": "nominal",
                         "scale": {"domain": ["1 Izu bonin boninites site 786","2 Izu bonin boninites","3 Izu bonin boninites","4 Izu bonin boninites","5 Izu bonin boninites","6 Tonga North","7 Cape Vogel","8 New Celedonia"],
                                   "range": ["#5B9BD5","#ED7D31","#A5A5A5","#FFC000","#4472C4","#70AD47","#255E91","#9E480E"]},
                         "legend": {"orient": "none", "legendX": 548, "legendY": 28, "title": "Phanerozoic Boninites", "titleFontSize": 28, "titleFontWeight": "bold", "titlePadding": 9, "titleLimit": 500, "labelFontSize": 25, "labelFontWeight": "normal", "symbolType": "M-1,0H1M0.16,0A0.16,0.16 0 1,1 -0.16,0A0.16,0.16 0 1,1 0.16,0Z", "symbolSize": 1156, "symbolStrokeWidth": 3, "clipHeight": 27, "rowPadding": 0, "labelOffset": 4, "labelLimit": 500, "padding": 0}},
                "stroke": {"field": "s", "type": "nominal",
                         "scale": {"domain": ["1 Izu bonin boninites site 786","2 Izu bonin boninites","3 Izu bonin boninites","4 Izu bonin boninites","5 Izu bonin boninites","6 Tonga North","7 Cape Vogel","8 New Celedonia"],
                                   "range": ["#5B9BD5","#ED7D31","#A5A5A5","#FFC000","#4472C4","#70AD47","#255E91","#9E480E"]},
                         "legend": {"orient": "none", "legendX": 548, "legendY": 28, "title": "Phanerozoic Boninites", "titleFontSize": 28, "titleFontWeight": "bold", "titlePadding": 9, "titleLimit": 500, "labelFontSize": 25, "labelFontWeight": "normal", "symbolType": "M-1,0H1M0.16,0A0.16,0.16 0 1,1 -0.16,0A0.16,0.16 0 1,1 0.16,0Z", "symbolSize": 1156, "symbolStrokeWidth": 3, "clipHeight": 27, "rowPadding": 0, "labelOffset": 4, "labelLimit": 500, "padding": 0}}
              }
            },
            {
              "transform": [{"filter": "datum.s === '1 Izu bonin boninites site 786' && datum.e === 'Th'"}],
              "mark": {"type": "text", "fontSize": 42, "fontWeight": "bold", "align": "left", "baseline": "alphabetic", "dx": 2},
              "encoding": {"x": {"datum": "Th", "axis": null}, "y": {"datum": 55, "type": "quantitative"}, "text": {"value": "b"}, "color": {"value": "#111111"}}
            }
          ],
          "resolve": {"axis": {"x": "independent"}}
        }
      ],
      "spacing": 0,
      "resolve": {"scale": {"color": "independent", "fill": "independent", "stroke": "independent", "shape": "independent"}}
    }
  ],
  "spacing": 34,
  "resolve": {"scale": {"color": "independent", "fill": "independent", "stroke": "independent", "shape": "independent"}},
  "config": {
    "view": {"stroke": null},
    "font": "Liberation Sans",
    "axis": {"domainColor": "#1a1a1a", "domainWidth": 2, "tickColor": "#1a1a1a", "tickWidth": 1.5, "labelColor": "#1a1a1a", "titleColor": "#1a1a1a", "labelFont": "Liberation Sans", "titleFont": "Liberation Sans", "labelFontWeight": "bold", "titleFontWeight": "bold", "grid": false},
    "legend": {"labelFont": "Liberation Sans", "titleFont": "Liberation Sans", "labelColor": "#1a1a1a", "titleColor": "#1a1a1a"}
  }
}
